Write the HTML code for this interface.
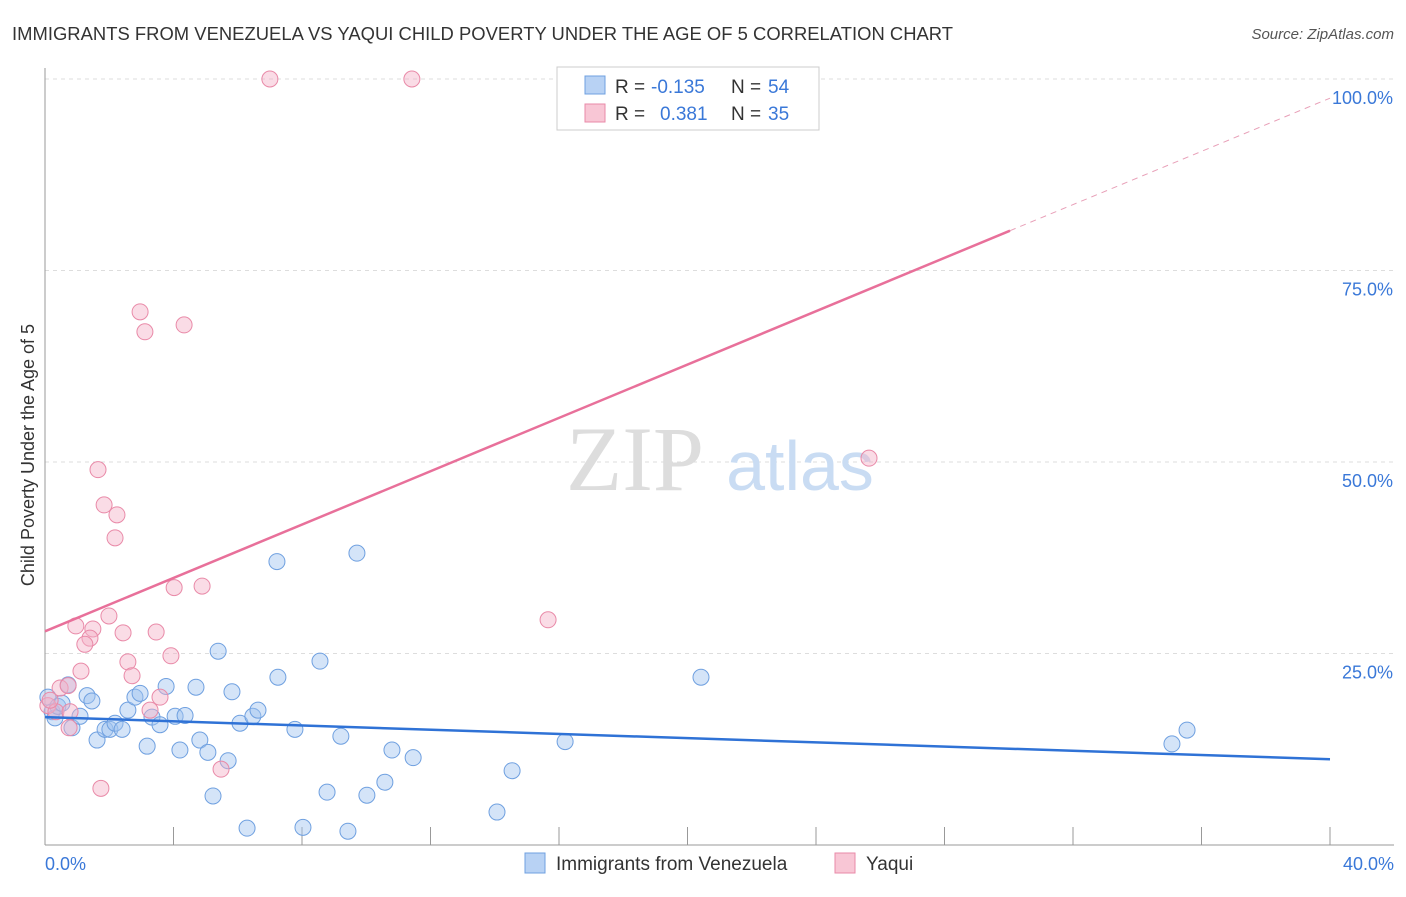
<!DOCTYPE html>
<html><head><meta charset="utf-8"><style>
body{margin:0;background:#fff;font-family:"Liberation Sans",sans-serif}
</style></head><body>
<svg width="1406" height="892" xmlns="http://www.w3.org/2000/svg" style="font-family:'Liberation Sans',sans-serif">
<text x="12" y="40" font-size="18.4" fill="#333" textLength="941">IMMIGRANTS FROM VENEZUELA VS YAQUI CHILD POVERTY UNDER THE AGE OF 5 CORRELATION CHART</text>
<text x="1394" y="39" font-size="15" fill="#555" text-anchor="end" font-style="italic">Source: ZipAtlas.com</text>
<g id="grid"></g>
<text x="635" y="490" font-size="92" fill="#ddd" text-anchor="middle" font-family="Liberation Serif">ZIP</text>
<text x="800" y="490" font-size="70" fill="#c9dcf3" text-anchor="middle">atlas</text>
<g id="marks"></g>
<text transform="translate(34,455) rotate(-90)" font-size="18" fill="#333" text-anchor="middle">Child Poverty Under the Age of 5</text>
<rect x="557" y="67" width="262" height="63" fill="#fff" stroke="#ccc"/>
<rect x="585" y="76" width="20" height="18" fill="#b8d2f4" stroke="#6fa0e0"/>
<rect x="585" y="104" width="20" height="18" fill="#f8c6d5" stroke="#e98aa8"/>
<g font-size="19">
<text x="615" y="93" fill="#333">R =</text><text x="651" y="93" fill="#3a78d8">-0.135</text><text x="731" y="93" fill="#333">N =</text><text x="768" y="93" fill="#3a78d8">54</text></g>
<g font-size="19">
<text x="615" y="120" fill="#333">R =</text><text x="660" y="120" fill="#3a78d8">0.381</text><text x="731" y="120" fill="#333">N =</text><text x="768" y="120" fill="#3a78d8">35</text></g>
<rect x="525" y="853" width="20" height="20" fill="#b8d2f4" stroke="#6fa0e0"/>
<text x="556" y="870" font-size="19" fill="#333">Immigrants from Venezuela</text>
<rect x="835" y="853" width="20" height="20" fill="#f8c6d5" stroke="#e98aa8"/>
<text x="866" y="870" font-size="19" fill="#333">Yaqui</text>
</svg>
<script>
const xTicks=[0,4,8,12,16,20,24,28,32,36,40];
const yTicks=[25,50,75,100];
const blueX=[0.09,0.22,0.31,0.40,0.53,0.72,0.84,1.09,1.31,1.46,1.62,1.87,2.02,2.18,2.40,2.58,2.80,2.96,3.18,3.33,3.58,3.77,4.05,4.20,4.36,4.70,4.82,5.07,5.23,5.39,5.70,5.82,6.07,6.29,6.47,6.63,7.22,7.25,7.78,8.03,8.56,8.78,9.21,9.43,9.71,10.02,10.58,10.80,11.46,14.07,14.54,16.19,20.42,35.08,35.55];
const blueY=[19.3,17.4,16.6,18.1,18.5,20.9,15.3,16.8,19.5,18.8,13.7,15.1,15.1,15.9,15.1,17.6,19.3,19.8,12.9,16.7,15.7,20.7,16.8,12.4,16.9,20.6,13.7,12.1,6.4,25.3,11.0,20.0,15.9,2.2,16.8,17.6,37.0,21.9,15.1,2.3,24.0,6.9,14.2,1.8,38.1,6.5,8.2,12.4,11.4,4.3,9.7,13.5,21.9,13.2,15.0];
const pinkX=[7.00,11.42,2.96,3.11,4.33,1.65,1.84,2.24,2.18,4.02,4.89,1.99,0.96,1.49,2.43,3.46,1.40,1.24,2.58,3.92,1.12,2.71,0.47,0.72,3.58,3.27,0.09,0.34,0.78,0.75,5.48,1.74,15.66,25.65,0.16];
const pinkY=[100,100,69.6,67.0,67.9,49.0,44.4,43.1,40.1,33.6,33.8,29.9,28.6,28.2,27.7,27.8,27.0,26.2,23.9,24.7,22.7,22.1,20.5,20.8,19.3,17.6,18.2,17.4,17.4,15.3,9.9,7.4,29.4,50.5,18.9];
const blueTrend=[[0,16.7],[40,11.2]];
const pinkTrend=[[0,27.9],[30.04,80.2],[40,97.5]];
const X=v=>45+v*32.125, Y=v=>845-v*7.66;
const NS='http://www.w3.org/2000/svg';
function mk(tag,attrs,parent){const e=document.createElementNS(NS,tag);for(const k in attrs)e.setAttribute(k,attrs[k]);parent.appendChild(e);return e;}
const grid=document.getElementById('grid'),marks=document.getElementById('marks');
yTicks.forEach(t=>{
 const l=mk('line',{x1:45,x2:1394,y1:Y(t),y2:Y(t),stroke:'#ddd','stroke-dasharray':'4,4'},grid);
 
 
 const tx=mk('text',{x:1393,y:Y(t)+25,'font-size':18,fill:'#3a78d8','text-anchor':'end'},grid);
 tx.textContent=t.toFixed(1)+'%';
 
 
});
const ax=mk('line',{x1:45,x2:45,y1:68,y2:845,stroke:'#999'},grid);


const bx=mk('line',{x1:45,x2:1394,y1:845,y2:845,stroke:'#999'},grid);


xTicks.forEach(t=>{
 const l=mk('line',{x1:X(t),x2:X(t),y1:827,y2:845,stroke:'#999'},grid);
 
 
});
[[0,'0.0%','start',45],[40,'40.0%','end',1394]].forEach(([v,s,a,x])=>{
 const tx=mk('text',{x:x,y:870,'font-size':18,fill:'#3a78d8','text-anchor':a},grid);
 tx.textContent=s;
 
 
});
blueX.forEach((v,i)=>{
 const c=mk('circle',{cx:X(v),cy:Y(blueY[i]),r:8,fill:'rgba(160,195,240,0.45)',stroke:'#6fa0e0','stroke-width':1},marks);
 
 
});
pinkX.forEach((v,i)=>{
 const c=mk('circle',{cx:X(v),cy:Y(pinkY[i]),r:8,fill:'rgba(244,178,200,0.45)',stroke:'#e98aa8','stroke-width':1},marks);
 
 
});
const bl=mk('line',{x1:X(blueTrend[0][0]),y1:Y(blueTrend[0][1]),x2:X(blueTrend[1][0]),y2:Y(blueTrend[1][1]),stroke:'#2f72d6','stroke-width':2.5},marks);


const pl=mk('line',{x1:X(pinkTrend[0][0]),y1:Y(pinkTrend[0][1]),x2:X(pinkTrend[1][0]),y2:Y(pinkTrend[1][1]),stroke:'#e8709a','stroke-width':2.5},marks);


const pd=mk('line',{x1:X(pinkTrend[1][0]),y1:Y(pinkTrend[1][1]),x2:X(pinkTrend[2][0]),y2:Y(pinkTrend[2][1]),stroke:'#e8a0b8','stroke-width':1,'stroke-dasharray':'6,5'},marks);


</script>
</body></html>
